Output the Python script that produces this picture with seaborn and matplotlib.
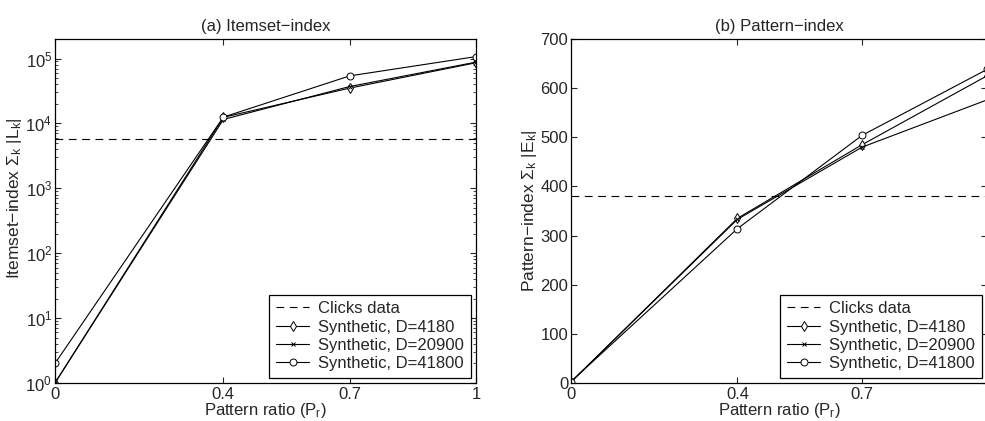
import matplotlib
matplotlib.use("Agg")
import matplotlib.pyplot as plt
import seaborn as sns
from matplotlib.ticker import LogLocator, NullFormatter

sns.set_style("ticks")
plt.rcParams["font.family"] = ["Liberation Sans", "DejaVu Sans"]
plt.rcParams["mathtext.fontset"] = "custom"
plt.rcParams["mathtext.rm"] = "Liberation Sans"
plt.rcParams["mathtext.it"] = "Liberation Sans"
plt.rcParams["font.size"] = 12

# Pattern ratio values
pattern_ratio = [0, 0.4, 0.7, 1]
series_labels = ["Synthetic, D=4180", "Synthetic, D=20900", "Synthetic, D=41800"]
series_markers = ["d", "x", "o"]

# (a) Itemset-index
clicks_itemset = 5800
itemset_d4180 = [1, 12400, 35000, 86000]
itemset_d20900 = [1, 11500, 37000, 88000]
itemset_d41800 = [2, 12500, 54000, 107000]

# (b) Pattern-index
clicks_pattern = 380
pattern_d4180 = [2, 335, 485, 625]
pattern_d20900 = [2, 333, 480, 576]
pattern_d41800 = [3, 314, 504, 638]

fig = plt.figure(figsize=(9.85, 4.21), dpi=100)
ax1 = fig.add_axes([0.0558, 0.0903, 0.4274, 0.8171])
ax2 = fig.add_axes([0.5797, 0.0903, 0.4223, 0.8171])


def draw(ax, clicks, series):
    ax.axhline(clicks, color="k", lw=0.8, dashes=(7, 5), label="Clicks data")
    for vals, lab, mk in zip(series, series_labels, series_markers):
        sns.lineplot(x=pattern_ratio, y=vals, ax=ax, color="k", lw=0.8,
                     marker=mk, markersize=5 if mk != "x" else 3,
                     markerfacecolor="white", markeredgecolor="k",
                     markeredgewidth=0.7, label=lab)
    ax.set_xlim(0, 1)
    ax.tick_params(which="both", direction="in", top=True, right=True,
                   labelsize=12)
    ax.tick_params(axis="x", pad=3)
    ax.tick_params(axis="y", pad=2)
    ax.tick_params(which="major", length=4)
    ax.tick_params(which="minor", length=2)
    for s in ax.spines.values():
        s.set_linewidth(0.9)
        s.set_color("k")
    leg = ax.legend(loc="lower right", fancybox=False, framealpha=1,
                    edgecolor="k", fontsize=12, handlelength=2.0,
                    borderpad=0.4, labelspacing=0.2, handletextpad=0.55,
                    borderaxespad=0.3)
    leg.get_frame().set_linewidth(0.9)
    ax.set_xlabel("Pattern ratio (P$_r$)", labelpad=-1)


draw(ax1, clicks_itemset, [itemset_d4180, itemset_d20900, itemset_d41800])
ax1.set_yscale("log")
ax1.set_ylim(1, 2e5)
ax1.yaxis.set_minor_locator(LogLocator(base=10, subs=range(2, 10), numticks=20))
ax1.yaxis.set_minor_formatter(NullFormatter())
ax1.set_xticks(pattern_ratio)
ax1.set_xticklabels(["0", "0.4", "0.7", "1"])
ax1.set_ylabel("Itemset\u2212index \u03a3$_k$ |L$_k$|", labelpad=1, fontsize=12.5)
ax1.yaxis.label.set_y(0.538)
ax1.set_title("(a) Itemset\u2212index", fontsize=12, pad=6)

draw(ax2, clicks_pattern, [pattern_d4180, pattern_d20900, pattern_d41800])
ax2.set_ylim(0, 700)
ax2.set_yticks(range(0, 701, 100))
ax2.set_xticks([0, 0.4, 0.7])
ax2.set_xticklabels(["0", "0.4", "0.7"])
ax2.set_ylabel("Pattern\u2212index \u03a3$_k$ |E$_k$|", labelpad=1, fontsize=12.5)
ax2.set_title("(b) Pattern\u2212index", fontsize=12, pad=6)

fig.savefig("out.png", dpi=100)
